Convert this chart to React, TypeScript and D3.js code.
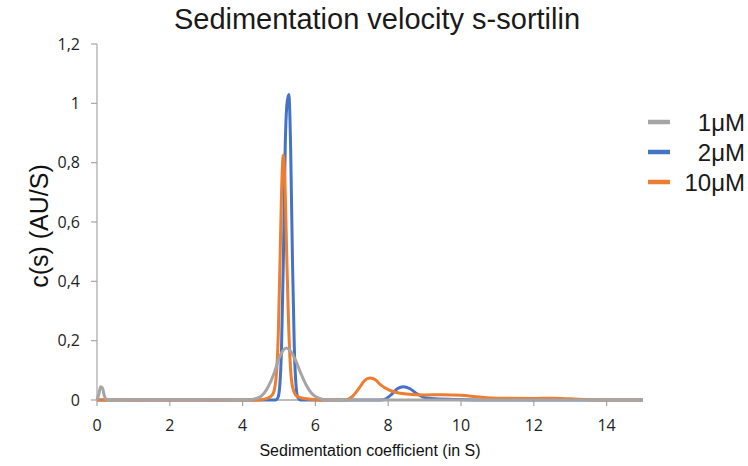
import React from "react";
import * as d3 from "d3";

const title = "Sedimentation velocity s-sortilin";
const xTitle = "Sedimentation coefficient (in S)";
const yTitle = "c(s) (AU/S)";
const xTicks = [0, 2, 4, 6, 8, 10, 12, 14];
const yTicks = [0, 0.2, 0.4, 0.6, 0.8, 1, 1.2];
const seriesNames = ["1μM", "2μM", "10μM"];
const seriesColors = ["#A5A5A5", "#4472C4", "#ED7D31"];

// 1μM
const s1 = [0, 0.05, 0.1, 0.15, 0.2, 0.25, 0.3, 0.5, 2, 4, 4.3, 4.5, 4.7, 4.85, 5.0, 5.1, 5.2, 5.3, 5.45, 5.6, 5.75, 5.9, 6.1, 6.3, 7, 8, 9, 10, 12, 15];
const c1 = [0, 0.02, 0.045, 0.04, 0.015, 0.002, 0, 0, 0.001, 0, 0.003, 0.012, 0.044, 0.085, 0.14, 0.165, 0.175, 0.168, 0.135, 0.09, 0.05, 0.022, 0.006, 0, 0, 0, 0, 0, 0, 0];
// 2μM
const s2 = [0, 4.9, 4.97, 5.02, 5.07, 5.12, 5.17, 5.22, 5.27, 5.32, 5.37, 5.42, 5.47, 5.52, 5.6, 7.8, 7.95, 8.1, 8.25, 8.42, 8.6, 8.8, 9.0, 9.3, 9.8, 10.5, 15];
const c2 = [0, 0, 0.008, 0.046, 0.18, 0.47, 0.85, 1.0, 1.03, 0.85, 0.47, 0.18, 0.046, 0.008, 0, 0, 0.005, 0.02, 0.038, 0.045, 0.038, 0.02, 0.008, 0.004, 0.002, 0, 0];
// 10μM
const s3 = [0, 4.4, 4.6, 4.75, 4.85, 4.93, 4.98, 5.03, 5.07, 5.12, 5.17, 5.21, 5.26, 5.31, 5.38, 5.5, 5.7, 6.0, 6.2, 6.8, 7.0, 7.2, 7.35, 7.5, 7.65, 7.8, 8.0, 8.2, 8.5, 9.0, 9.5, 10, 10.5, 11, 12, 12.5, 13, 13.5, 14, 15];
const c3 = [0, 0, 0.003, 0.01, 0.025, 0.09, 0.22, 0.48, 0.7, 0.825, 0.7, 0.5, 0.27, 0.12, 0.04, 0.012, 0.005, 0.001, 0, 0, 0.01, 0.04, 0.065, 0.074, 0.068, 0.05, 0.035, 0.026, 0.02, 0.017, 0.018, 0.016, 0.01, 0.006, 0.005, 0.006, 0.004, 0.001, 0, 0];

const seriesS = [s1, s2, s3];
const seriesC = [c1, c2, c3];
const drawOrder = [1, 2, 0];

export default function App() {
  const W = 748, H = 466;
  const x = d3.scaleLinear().domain([0, 15]).range([97, 643]);
  const y = d3.scaleLinear().domain([0, 1.2]).range([400, 44]);
  const line = d3
    .line<[number, number]>()
    .x((d) => x(d[0]))
    .y((d) => y(d[1]))
    .curve(d3.curveMonotoneX);
  const axisColor = "#A6A6A6";
  const tickFont = "'Open Sans', sans-serif";
  const labelFont = "'Liberation Sans', Arial, sans-serif";
  const fmt = (v: number) => String(Math.round(v * 10) / 10).replace(".", ",");
  return (
    <svg width={W} height={H} style={{ position: "absolute", left: 0, top: 0, background: "#fff" }}>
      <text x={377} y={29} textAnchor="middle" fontFamily={labelFont} fontSize={29} fill="#1a1a1a">
        {title}
      </text>
      {/* y axis */}
      <line x1={x(0)} x2={x(0)} y1={y(0)} y2={y(1.2)} stroke={axisColor} strokeWidth={1.2} />
      {yTicks.map((t) => (
        <g key={"y" + t}>
          <line x1={x(0) - 6} x2={x(0)} y1={y(t)} y2={y(t)} stroke={axisColor} strokeWidth={1.2} />
          <text x={80} y={y(t)} dy="0.36em" textAnchor="end" fontFamily={tickFont} fontSize={16} fill="#222">
            {fmt(t)}
          </text>
        </g>
      ))}
      {/* x axis */}
      <line x1={x(0)} x2={x(15)} y1={y(0)} y2={y(0)} stroke={axisColor} strokeWidth={1.5} />
      {xTicks.map((t) => (
        <g key={"x" + t}>
          <line x1={x(t)} x2={x(t)} y1={y(0)} y2={y(0) + 6} stroke={axisColor} strokeWidth={1.2} />
          <text x={x(t)} y={431} textAnchor="middle" fontFamily={tickFont} fontSize={16} fill="#222">
            {t}
          </text>
        </g>
      ))}
      <text x={370} y={456} textAnchor="middle" fontFamily={labelFont} fontSize={16} fill="#111">
        {xTitle}
      </text>
      <text
        transform={`translate(48, 226) rotate(-90)`}
        textAnchor="middle"
        fontFamily={labelFont}
        fontSize={25}
        fill="#111"
      >
        {yTitle}
      </text>
      {drawOrder.map((i) => (
        <path
          key={"p" + i}
          d={line(seriesS[i].map((v, j) => [v, seriesC[i][j]] as [number, number])) || ""}
          fill="none"
          stroke={seriesColors[i]}
          strokeWidth={3}
          strokeLinejoin="round"
        />
      ))}
      {seriesNames.map((n, i) => (
        <g key={"l" + i}>
          <line x1={648} x2={670} y1={122 + i * 30} y2={122 + i * 30} stroke={seriesColors[i]} strokeWidth={4.5} />
          <text x={745} y={122 + i * 30} dy="0.36em" textAnchor="end" fontFamily={labelFont} fontSize={24} fill="#1a1a1a">
            {n}
          </text>
        </g>
      ))}
    </svg>
  );
}
